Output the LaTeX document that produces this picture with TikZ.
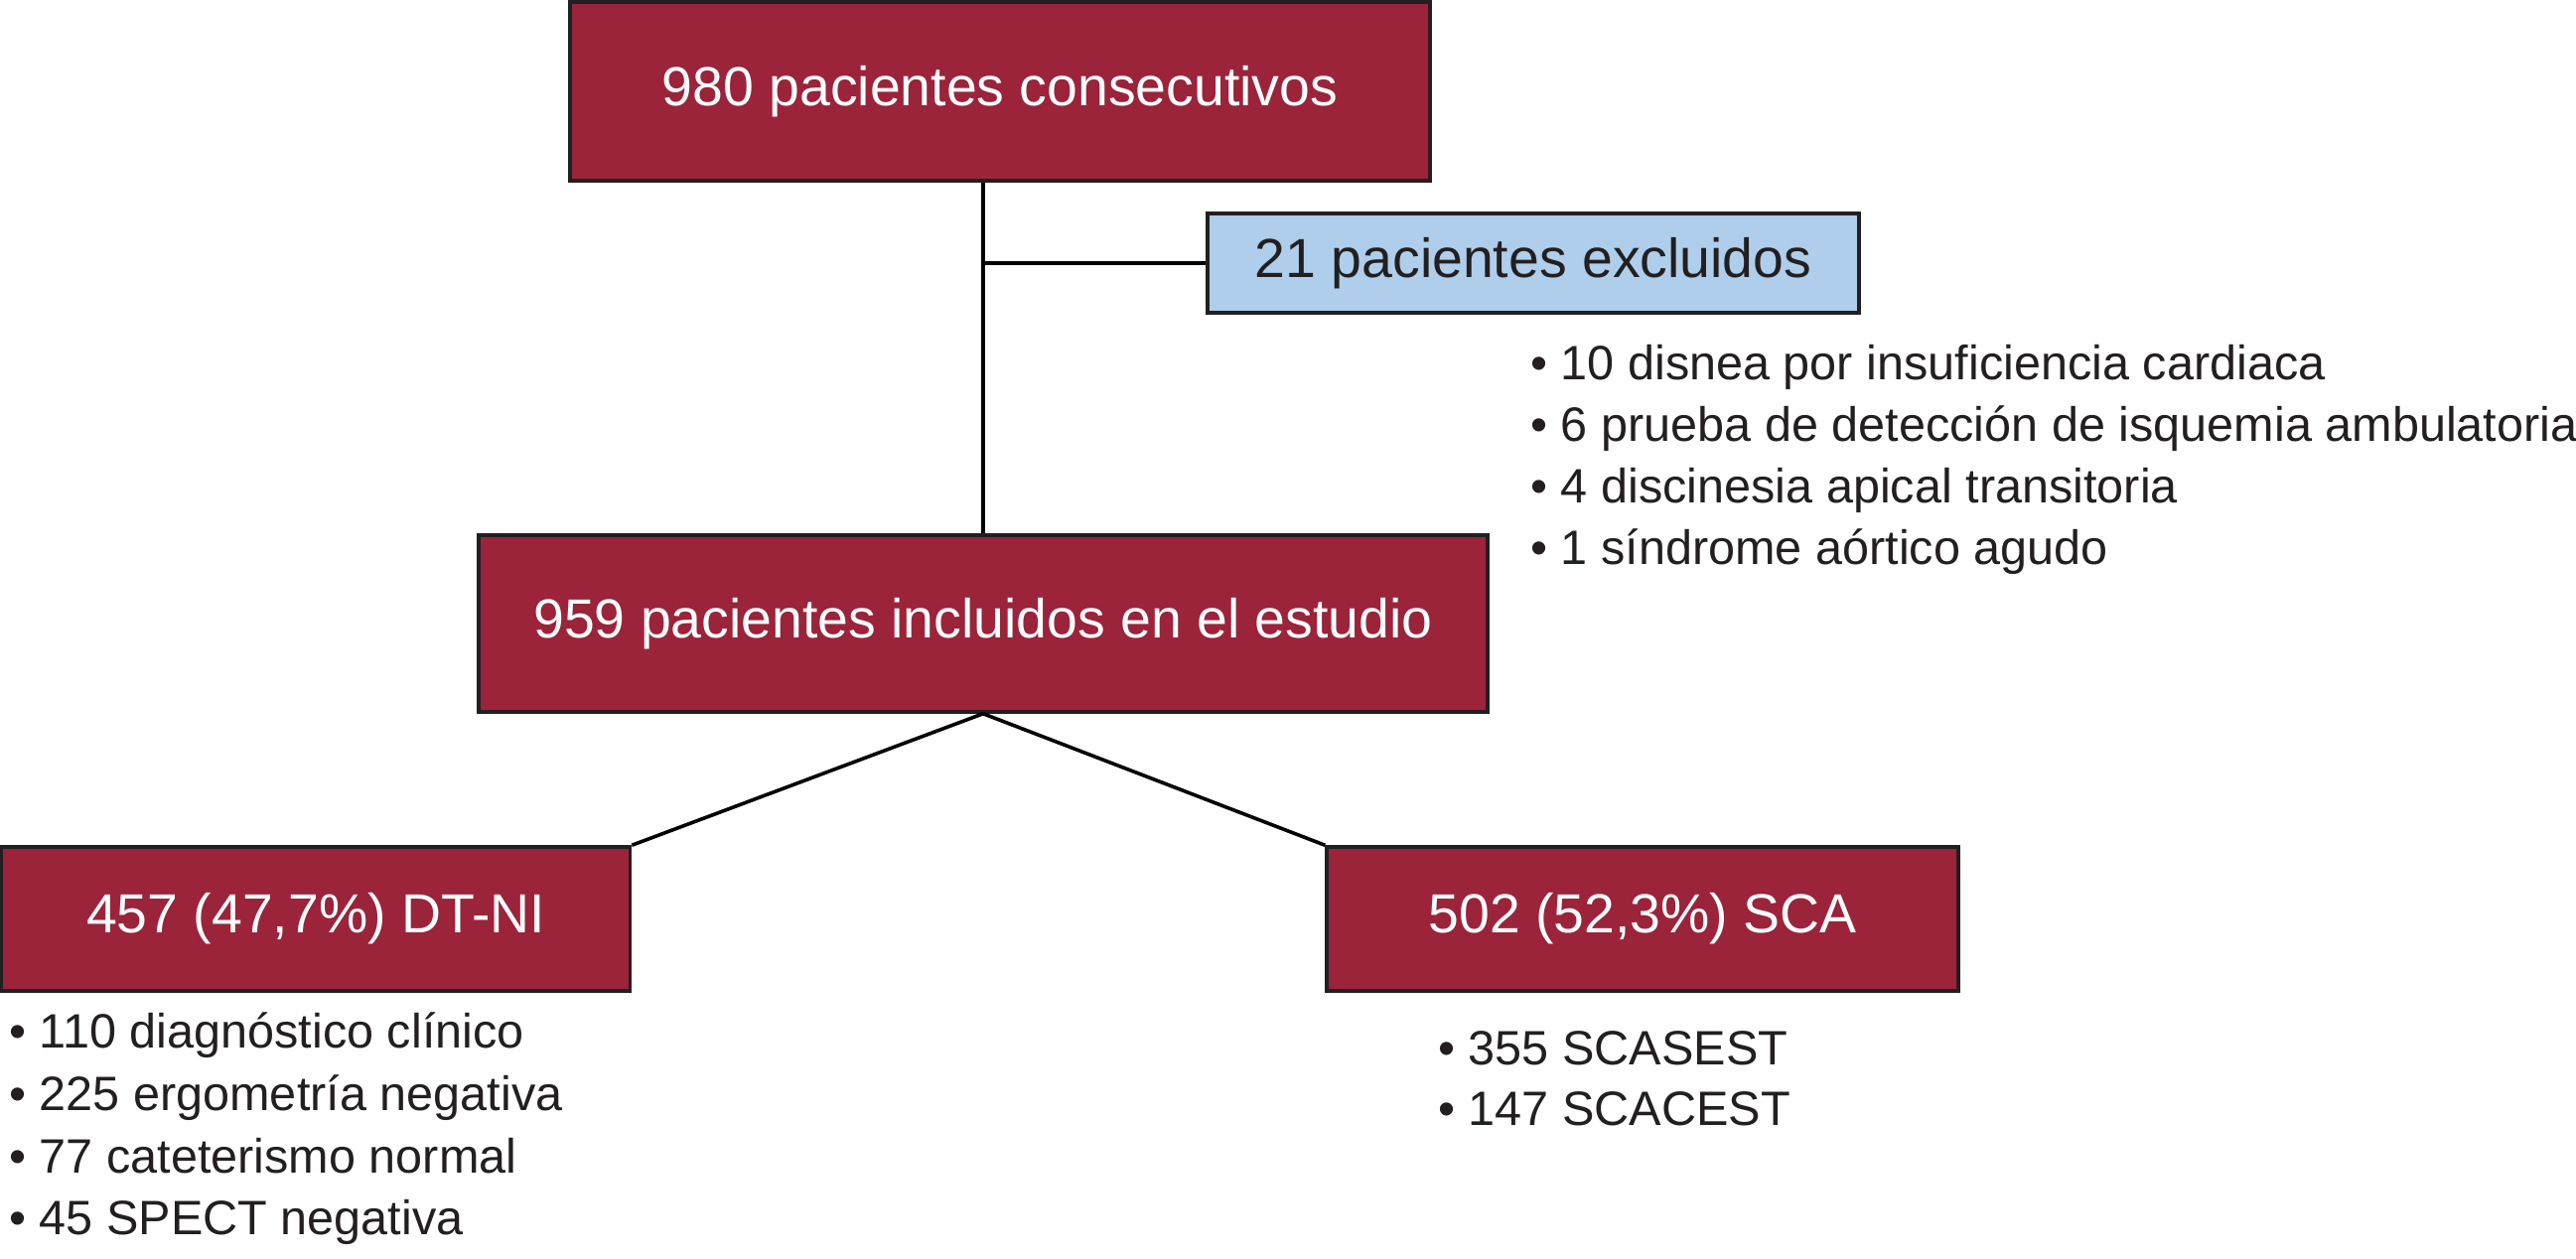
\documentclass[tikz,border=0pt]{standalone}
\usepackage{fontspec}
\setmainfont{Liberation Sans}
\definecolor{boxred}{RGB}{155,35,58}
\definecolor{boxblue}{RGB}{174,206,235}
\definecolor{edgedark}{RGB}{35,31,32}
\tikzset{
  redbox/.style={draw=edgedark, line width=3.5pt, fill=boxred, text=white, inner sep=0pt,
     font=\fontsize{55.4}{66}\selectfont},
  bluebox/.style={draw=edgedark, line width=3.5pt, fill=boxblue, text=edgedark, inner sep=0pt,
     font=\fontsize{55.4}{66}\selectfont},
  item/.style={anchor=base west, inner sep=0pt, text=edgedark, font=\fontsize{48.6}{58}\selectfont},
  link/.style={draw=black, line width=3.6pt}
}
\begin{document}
\begin{tikzpicture}[x=1pt,y=-1pt]
\useasboundingbox (0,0) rectangle (2594,1267);
\node[redbox, minimum width=866pt, minimum height=180pt] (top) at (1007,92) {980 pacientes consecutivos};
\node[bluebox, minimum width=656pt, minimum height=100pt] (excl) at (1544,265) {21 pacientes excluidos};
\node[redbox, minimum width=1016pt, minimum height=178pt] (mid) at (990,628) {959 pacientes incluidos en el estudio};
\node[redbox, minimum width=633pt, minimum height=145pt] (left) at (318,925.5) {457 (47,7\%) DT-NI};
\node[redbox, minimum width=636pt, minimum height=145pt] (right) at (1654,925.5) {502 (52,3\%) SCA};

\node[item] (e1) at (1541,382) {• 10 disnea por insuficiencia cardiaca};
\node[item] (e2) at (1541,444) {• 6 prueba de detección de isquemia ambulatoria};
\node[item] (e3) at (1541,506) {• 4 discinesia apical transitoria};
\node[item] (e4) at (1541,568) {• 1 síndrome aórtico agudo};

\node[item] (l1) at (9,1055) {• 110 diagnóstico clínico};
\node[item] (l2) at (9,1118) {• 225 ergometría negativa};
\node[item] (l3) at (9,1181) {• 77 cateterismo normal};
\node[item] (l4) at (9,1243) {• 45 SPECT negativa};

\node[item] (r1) at (1448,1072) {• 355 SCASEST};
\node[item] (r2) at (1448,1133) {• 147 SCACEST};

\coordinate (br) at (mid.north |- excl.west);
\draw[link] (mid.north |- top.south) -- (mid.north);
\draw[link] (br) -- (excl.west);
\draw[link] (mid.south) -- (left.north east);
\draw[link] (mid.south) -- (right.north west);
\end{tikzpicture}
\end{document}
